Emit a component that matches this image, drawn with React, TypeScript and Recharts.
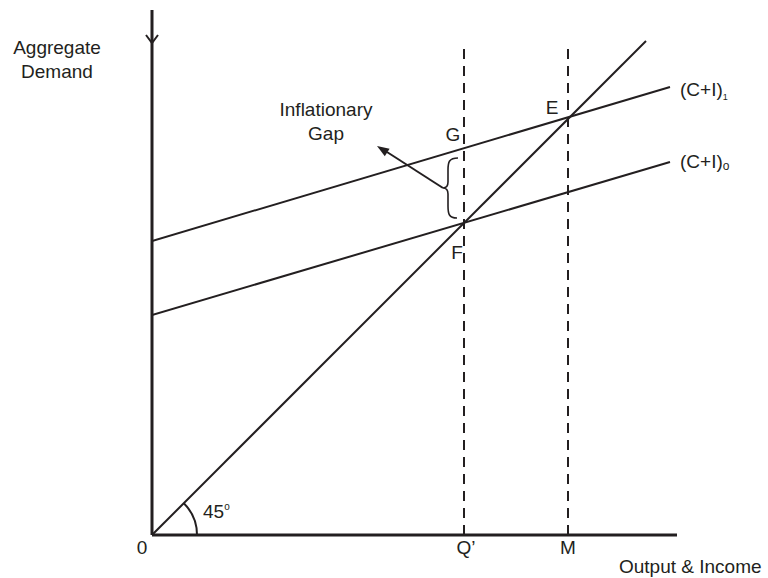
import React from "react";
import {
  LineChart,
  Line,
  XAxis,
  YAxis,
  ReferenceLine,
  Customized,
} from "recharts";

// Values, in plot units (both axes 0..525)
const xDomain = [0, 525];
const yDomain = [0, 525];

const diagonalX = [0, 494];
const diagonalY = [0, 494];

const ci1X = [0, 518];
const ci1Y = [294, 448];

const ci0X = [0, 518];
const ci0Y = [220, 373];

const dashedX = [312, 416];
const dashedTop = 490;

const ink = "#231f20";
const font = "'Liberation Sans', Arial, Helvetica, sans-serif";

const toPoints = (xs: number[], ys: number[]) => xs.map((x, i) => ({ x, y: ys[i] }));

const diagonal = toPoints(diagonalX, diagonalY);
const ci1 = toPoints(ci1X, ci1Y);
const ci0 = toPoints(ci0X, ci0Y);

function Annotations() {
  const t = { fill: ink, fontFamily: font, fontSize: 19 } as const;
  return (
    <g>
      {/* y axis arrow head */}
      <polyline points="146,35 152,43 158,35" fill="none" stroke={ink} strokeWidth={2} />
      {/* 45 degree arc */}
      <path d="M197,535 A45,45 0 0 0 183.8,503.2" fill="none" stroke={ink} strokeWidth={2} />
      {/* brace for the gap */}
      <path
        d="M458,158 C449,158 448,162 448,170 L448,182 C448,186 446,188 443,188 C446,188 448,190 448,194 L448,206 C448,214 449,218 457,218"
        fill="none"
        stroke={ink}
        strokeWidth={1.6}
      />
      <line x1={443} y1={188} x2={387} y2={152} stroke={ink} strokeWidth={2} />
      <polygon points="377,146 389.6,148.7 384.8,156.3" fill={ink} />

      <text {...t} x={57} y={54} textAnchor="middle">Aggregate</text>
      <text {...t} x={57} y={78} textAnchor="middle">Demand</text>
      <text {...t} x={326} y={116} textAnchor="middle">Inflationary</text>
      <text {...t} x={326} y={140} textAnchor="middle">Gap</text>
      <text {...t} x={453} y={141} textAnchor="middle">G</text>
      <text {...t} x={552} y={114} textAnchor="middle">E</text>
      <text {...t} x={457} y={259} textAnchor="middle">F</text>
      <text {...t} x={680} y={96}>
        (C+I)<tspan fontSize={9} dy={4}>1</tspan>
      </text>
      <text {...t} x={680} y={168}>
        (C+I)<tspan fontSize={12} dy={2}>o</tspan>
      </text>
      <text {...t} x={142} y={554} textAnchor="middle">0</text>
      <text {...t} x={203} y={518}>
        45<tspan fontSize={10} dy={-8}>o</tspan>
      </text>
      <text {...t} x={466} y={554} textAnchor="middle">Q’</text>
      <text {...t} x={568} y={554} textAnchor="middle">M</text>
      <text {...t} x={619} y={573}>Output &amp; Income</text>
    </g>
  );
}

export default function App() {
  return (
    <div style={{ position: "absolute", left: 0, top: 0, width: 768, height: 578, background: "#fff" }}>
      <LineChart width={768} height={578} margin={{ top: 10, right: 91, bottom: 43, left: 152 }}>
        <XAxis type="number" dataKey="x" domain={xDomain} hide allowDataOverflow />
        <YAxis type="number" dataKey="y" domain={yDomain} hide allowDataOverflow />
        {dashedX.map((x) => (
          <ReferenceLine
            key={x}
            segment={[{ x, y: 0 }, { x, y: dashedTop }]}
            stroke={ink}
            strokeWidth={2}
            strokeDasharray="10 7"
          />
        ))}
        <Line data={diagonal} dataKey="y" stroke={ink} strokeWidth={2} dot={false} isAnimationActive={false} />
        <Line data={ci1} dataKey="y" stroke={ink} strokeWidth={2} dot={false} isAnimationActive={false} />
        <Line data={ci0} dataKey="y" stroke={ink} strokeWidth={2} dot={false} isAnimationActive={false} />
        <ReferenceLine x={0} stroke={ink} strokeWidth={3} />
        <ReferenceLine y={0} stroke={ink} strokeWidth={3} />
        <Customized component={Annotations} />
      </LineChart>
    </div>
  );
}
